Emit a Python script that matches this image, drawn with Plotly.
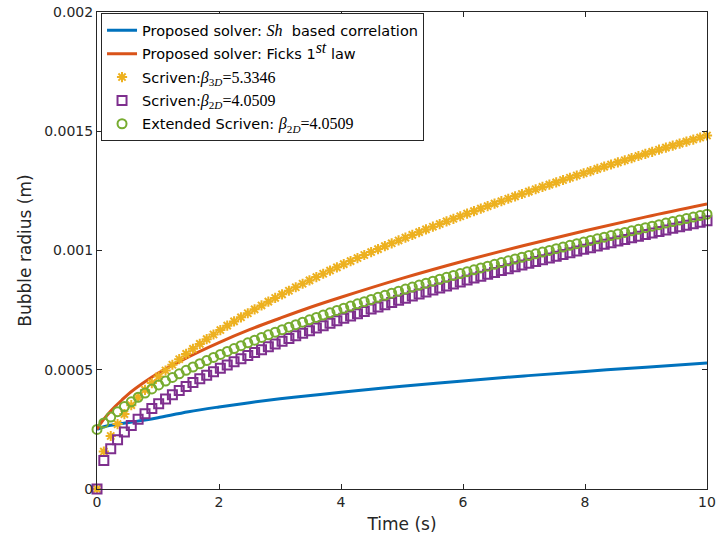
import plotly.graph_objects as go

# ---------------- data ----------------
# line series (Proposed solver)
t_line_sh = [0, 0.1, 0.2, 0.3, 0.5, 0.75, 1, 1.5, 2, 2.5, 3, 3.5, 4, 5, 6, 7, 8, 9, 10]
r_sh = [0.000250, 0.000260, 0.000266, 0.000270, 0.000278, 0.000288, 0.000299, 0.000324,
        0.000344, 0.000362, 0.000378, 0.000392, 0.000406, 0.000431, 0.000453, 0.000474,
        0.000493, 0.000511, 0.000528]

t_line_fick = [0, 0.05, 0.1, 0.2, 0.3, 0.4, 0.5, 0.75, 1, 1.5, 2, 2.5, 3, 3.5, 4, 5, 6, 7, 8, 9, 10]
r_fick = [0.000250, 0.000272, 0.000289, 0.000320, 0.000347, 0.000371, 0.000395, 0.000443,
          0.000485, 0.000554, 0.000614, 0.000668, 0.000716, 0.000762, 0.000804, 0.000883,
          0.000955, 0.001021, 0.001083, 0.001141, 0.001195]

# marker series (Scriven)
t_pts = [0, 0.112, 0.225, 0.337, 0.449, 0.562, 0.674, 0.787, 0.899, 1.011,
         1.124, 1.236, 1.348, 1.461, 1.573, 1.685, 1.798, 1.910, 2.022, 2.135,
         2.247, 2.360, 2.472, 2.584, 2.697, 2.809, 2.921, 3.034, 3.146, 3.258,
         3.371, 3.483, 3.596, 3.708, 3.820, 3.933, 4.045, 4.157, 4.270, 4.382,
         4.494, 4.607, 4.719, 4.831, 4.944, 5.056, 5.169, 5.281, 5.393, 5.506,
         5.618, 5.730, 5.843, 5.955, 6.067, 6.180, 6.292, 6.404, 6.517, 6.629,
         6.742, 6.854, 6.966, 7.079, 7.191, 7.303, 7.416, 7.528, 7.640, 7.753,
         7.865, 7.978, 8.090, 8.202, 8.315, 8.427, 8.539, 8.652, 8.764, 8.876,
         8.989, 9.101, 9.213, 9.326, 9.438, 9.551, 9.663, 9.775, 9.888, 10.0]

r_scriven_3d = [0, 0.0001571, 0.0002222, 0.0002721, 0.0003142, 0.0003513, 0.0003848, 0.0004156, 0.0004443, 0.0004713,
                0.0004968, 0.0005210, 0.0005442, 0.0005664, 0.0005878, 0.0006084, 0.0006284, 0.0006477, 0.0006665, 0.0006848,
                0.0007026, 0.0007199, 0.0007369, 0.0007534, 0.0007696, 0.0007855, 0.0008010, 0.0008163, 0.0008313, 0.0008460,
                0.0008605, 0.0008747, 0.0008887, 0.0009025, 0.0009160, 0.0009294, 0.0009426, 0.0009556, 0.0009684, 0.0009811,
                0.0009936, 0.0010059, 0.0010181, 0.0010302, 0.0010421, 0.0010539, 0.0010655, 0.0010770, 0.0010884, 0.0010997,
                0.0011109, 0.0011219, 0.0011329, 0.0011437, 0.0011544, 0.0011651, 0.0011756, 0.0011861, 0.0011964, 0.0012067,
                0.0012169, 0.0012270, 0.0012370, 0.0012469, 0.0012568, 0.0012666, 0.0012763, 0.0012859, 0.0012955, 0.0013050,
                0.0013144, 0.0013238, 0.0013330, 0.0013423, 0.0013514, 0.0013605, 0.0013696, 0.0013785, 0.0013875, 0.0013963,
                0.0014051, 0.0014139, 0.0014226, 0.0014313, 0.0014399, 0.0014484, 0.0014569, 0.0014653, 0.0014737, 0.0014821]

r_scriven_2d = [0, 0.0001193, 0.0001686, 0.0002065, 0.0002385, 0.0002666, 0.0002921, 0.0003155, 0.0003373, 0.0003578,
                0.0003771, 0.0003955, 0.0004131, 0.0004300, 0.0004462, 0.0004619, 0.0004770, 0.0004917, 0.0005059, 0.0005198,
                0.0005333, 0.0005465, 0.0005593, 0.0005719, 0.0005842, 0.0005963, 0.0006081, 0.0006196, 0.0006310, 0.0006422,
                0.0006532, 0.0006640, 0.0006746, 0.0006850, 0.0006953, 0.0007055, 0.0007155, 0.0007254, 0.0007351, 0.0007447,
                0.0007542, 0.0007636, 0.0007728, 0.0007820, 0.0007910, 0.0007999, 0.0008088, 0.0008175, 0.0008262, 0.0008348,
                0.0008432, 0.0008516, 0.0008599, 0.0008682, 0.0008763, 0.0008844, 0.0008924, 0.0009003, 0.0009082, 0.0009160,
                0.0009237, 0.0009314, 0.0009390, 0.0009465, 0.0009540, 0.0009614, 0.0009688, 0.0009761, 0.0009834, 0.0009906,
                0.0009977, 0.0010048, 0.0010119, 0.0010189, 0.0010258, 0.0010327, 0.0010396, 0.0010464, 0.0010532, 0.0010599,
                0.0010666, 0.0010733, 0.0010799, 0.0010864, 0.0010929, 0.0010994, 0.0011059, 0.0011123, 0.0011187, 0.0011250]

r_ext_scriven_2d = [0.0002500, 0.0002770, 0.0003016, 0.0003243, 0.0003455, 0.0003655, 0.0003845, 0.0004025, 0.0004198, 0.0004364,
                    0.0004524, 0.0004679, 0.0004829, 0.0004974, 0.0005115, 0.0005252, 0.0005385, 0.0005516, 0.0005643, 0.0005768,
                    0.0005890, 0.0006009, 0.0006127, 0.0006242, 0.0006354, 0.0006465, 0.0006574, 0.0006682, 0.0006787, 0.0006891,
                    0.0006994, 0.0007095, 0.0007194, 0.0007292, 0.0007389, 0.0007485, 0.0007579, 0.0007672, 0.0007765, 0.0007856,
                    0.0007946, 0.0008035, 0.0008123, 0.0008210, 0.0008296, 0.0008381, 0.0008466, 0.0008549, 0.0008632, 0.0008714,
                    0.0008795, 0.0008876, 0.0008955, 0.0009034, 0.0009113, 0.0009190, 0.0009267, 0.0009344, 0.0009420, 0.0009495,
                    0.0009569, 0.0009643, 0.0009717, 0.0009790, 0.0009862, 0.0009934, 0.0010005, 0.0010076, 0.0010146, 0.0010216,
                    0.0010286, 0.0010355, 0.0010423, 0.0010491, 0.0010559, 0.0010626, 0.0010692, 0.0010759, 0.0010825, 0.0010890,
                    0.0010955, 0.0011020, 0.0011084, 0.0011148, 0.0011212, 0.0011275, 0.0011338, 0.0011400, 0.0011463, 0.0011524]

x_ticks = [0, 2, 4, 6, 8, 10]
y_ticks = [0, 0.0005, 0.001, 0.0015, 0.002]
y_tick_labels = ["0", "0.0005", "0.001", "0.0015", "0.002"]

# ---------------- styles ----------------
SERIF = "<span style=\"font-family:'Liberation Serif', 'DejaVu Serif', serif; font-size:16px\">{}</span>"
name_sh = "Proposed solver: " + SERIF.format("<i>Sh</i>") + "\u00a0 based correlation"
name_fick = "Proposed solver: Ficks 1<sup>" + SERIF.format("<i>st</i>") + "</sup> law"
name_s3 = "Scriven:" + SERIF.format("<i>β</i><sub>3<i>D</i></sub>=5.3346")
name_s2 = "Scriven:" + SERIF.format("<i>β</i><sub>2<i>D</i></sub>=4.0509")
name_e2 = "Extended Scriven: " + SERIF.format("<i>β</i><sub>2<i>D</i></sub>=4.0509")

fig = go.Figure()
fig.add_trace(go.Scatter(x=t_line_sh, y=r_sh, mode="lines", name=name_sh, legendgroup="g1",
                         line=dict(color="#0072BD", width=3, shape="spline")))
fig.add_trace(go.Scatter(x=t_line_fick, y=r_fick, mode="lines", name=name_fick, legendgroup="g2",
                         line=dict(color="#D95319", width=3, shape="spline")))
fig.add_trace(go.Scatter(x=t_pts, y=r_scriven_3d, mode="markers", name=name_s3, cliponaxis=False,
                         legendgroup="g3",
                         marker=dict(symbol="asterisk-open", size=8.5,
                                     line=dict(color="#EDB120", width=2), color="#EDB120")))
fig.add_trace(go.Scatter(x=t_pts, y=r_scriven_2d, mode="markers", name=name_s2, cliponaxis=False,
                         legendgroup="g4",
                         marker=dict(symbol="square-open", size=9,
                                     line=dict(color="#7E2F8E", width=2), color="#7E2F8E")))
fig.add_trace(go.Scatter(x=t_pts, y=r_ext_scriven_2d, mode="markers", name=name_e2, cliponaxis=False,
                         legendgroup="g5",
                         marker=dict(symbol="circle-open", size=9,
                                     line=dict(color="#77AC30", width=2), color="#77AC30")))

axis_common = dict(showline=True, linecolor="#262626", linewidth=1, mirror="ticks",
                   ticks="inside", ticklen=5, tickcolor="#262626", tickwidth=1,
                   showgrid=False, zeroline=False, automargin=False,
                   tickfont=dict(family="DejaVu Sans", size=14, color="#262626"))

fig.update_xaxes(range=[0, 10], tickvals=x_ticks, ticktext=[str(v) for v in x_ticks],
                 title=dict(text="Time (s)", font=dict(family="DejaVu Sans", size=17, color="#262626"),
                            standoff=9),
                 **axis_common)
fig.update_yaxes(range=[0, 0.002], tickvals=y_ticks, ticktext=y_tick_labels,
                 title=dict(text="Bubble radius (m)", font=dict(family="DejaVu Sans", size=17, color="#262626"),
                            standoff=8),
                 **axis_common)

fig.update_layout(
    width=716, height=545,
    margin=dict(l=97, r=9, t=12, b=56),
    paper_bgcolor="white", plot_bgcolor="white",
    font=dict(family="DejaVu Sans", size=14, color="#262626"),
    legend=dict(x=0.0066, y=0.997, xanchor="left", yanchor="top",
                bgcolor="white", bordercolor="#262626", borderwidth=1,
                font=dict(family="DejaVu Sans", size=14.5, color="#000000"),
                tracegroupgap=1.5),
    showlegend=True,
)

fig.write_html("out.html")
